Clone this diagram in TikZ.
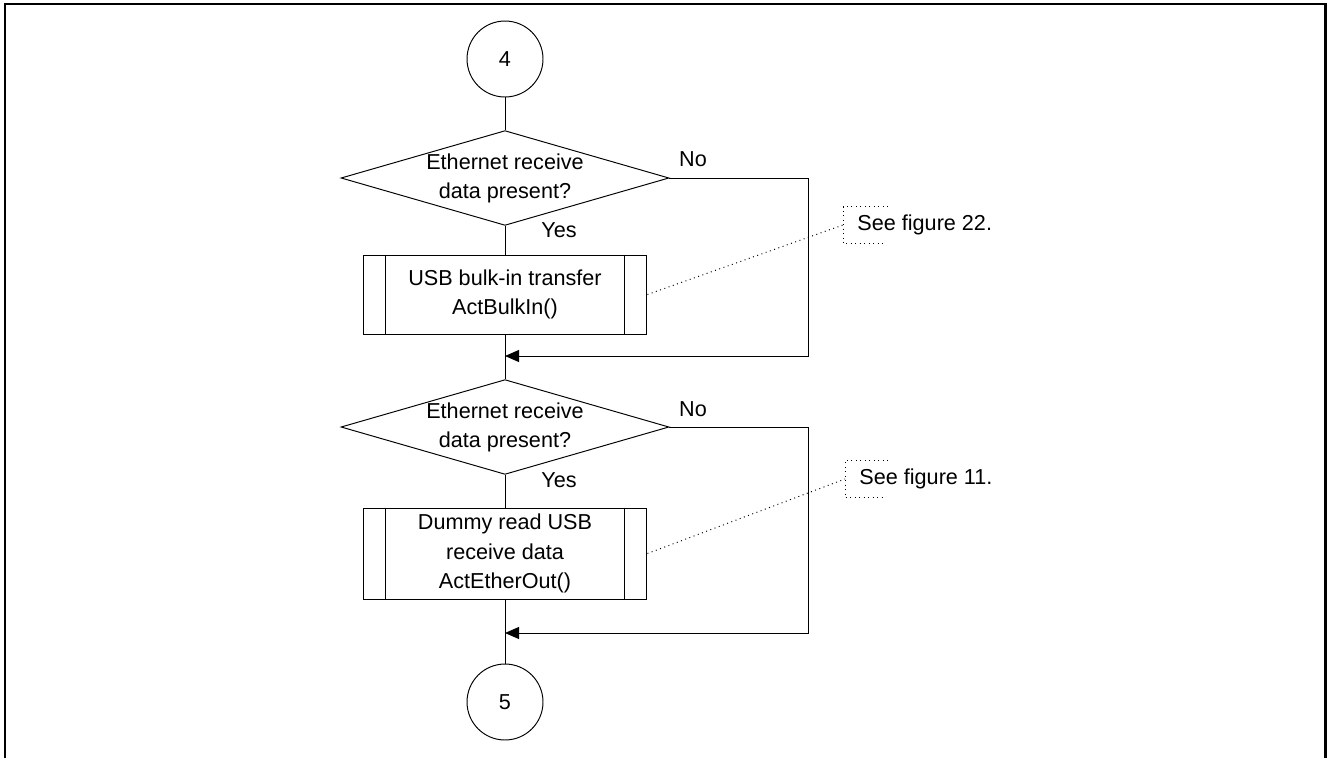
\documentclass[tikz,border=0pt]{standalone}
\usepackage{fontspec}
\setmainfont{Liberation Sans}
\usetikzlibrary{positioning,shapes.geometric,arrows.meta}

\tikzset{
  conn/.style={circle, draw, minimum size=1.52cm, inner sep=0pt},
  decision/.style={diamond, draw, aspect=3.46, inner sep=0pt,
    minimum width=6.5cm, minimum height=1.88cm, align=center},
  subproc/.style={rectangle, draw, minimum width=5.68cm, inner sep=0pt, align=center},
  note/.style={anchor=west, inner xsep=0.28cm, inner ysep=0pt, minimum height=0.72cm},
  tag/.style={inner sep=0pt},
  flowarrow/.style={-{Triangle[length=0.28cm,width=0.24cm]}}
}

\begin{document}
\begin{tikzpicture}[x=0.02cm, y=-0.02cm, line width=0.55pt,
    font=\fontsize{12.3}{16.6}\selectfont]
  \useasboundingbox (0,0) rectangle (1328,758);
  \draw[line width=1.7pt] (5,758) -- (5,4) -- (1325,4) -- (1325,758);

  \node (c4) [conn] at (505,59) {4};
  \node (d1) [decision] at (505,178) {Ethernet receive\\data present?};
  \node (b1) [subproc, minimum height=1.58cm] at (505,294.5) {USB bulk-in transfer\\ActBulkIn()};
  \coordinate (j1) at (505,356);
  \coordinate (r1) at (808,356);
  \node (d2) [decision] at (505,427) {Ethernet receive\\data present?};
  \node (b2) [subproc, minimum height=1.82cm] at (505,553.5) {Dummy read USB\\receive data\\ActEtherOut()};
  \coordinate (j2) at (505,633);
  \coordinate (r2) at (808,633);
  \node (c5) [conn] at (505,702) {5};

  \node (yes1) [tag] at (559,230) {Yes};
  \node (no1) [tag] at (693,159) {No};
  \node (yes2) [tag] at (559,480) {Yes};
  \node (no2) [tag] at (693,409) {No};

  \node (n1) [note] at (843,225) {See figure 22.};
  \node (n2) [note] at (845,479) {See figure 11.};

  \foreach \b in {b1,b2} {
    \draw ([xshift=0.45cm]\b.north west) -- ([xshift=0.45cm]\b.south west);
    \draw ([xshift=-0.45cm]\b.north east) -- ([xshift=-0.45cm]\b.south east);
  }

  \foreach \n/\t/\s in {n1/0.9cm/0.8cm, n2/0.86cm/0.74cm}
    \draw[dotted] ([xshift=\t]\n.north west) -- (\n.north west)
      -- (\n.south west) -- ([xshift=\s]\n.south west);

  \draw (c4) -- (d1);
  \draw (d1) -- (b1);
  \draw (b1) -- (d2);
  \draw (d2) -- (b2);
  \draw (b2) -- (c5);
  \draw[flowarrow] (d1.east) -| (r1) -- (j1);
  \draw[flowarrow] (d2.east) -| (r2) -- (j2);
  \draw[dotted] (b1.east) -- (n1.west);
  \draw[dotted] (b2.east) -- (n2.west);
\end{tikzpicture}
\end{document}
